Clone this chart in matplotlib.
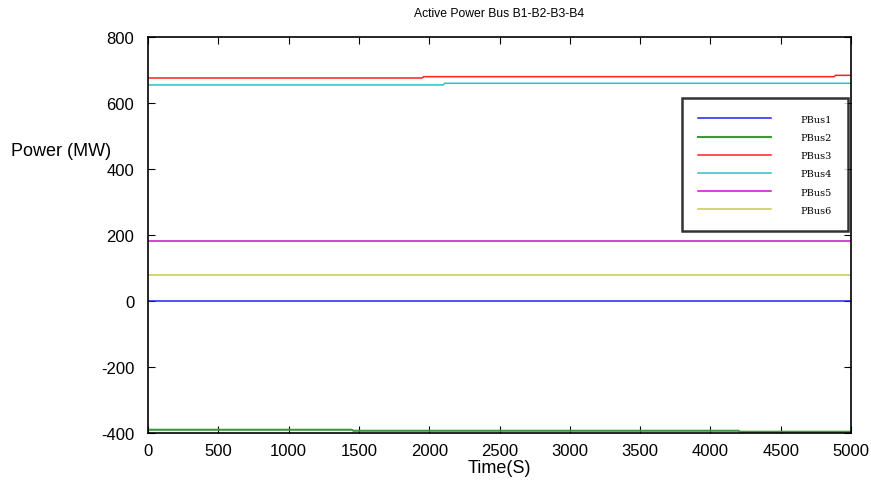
import numpy as np
import matplotlib
matplotlib.use("Agg")
import matplotlib.pyplot as plt

plt.rcParams["font.family"] = ["Liberation Sans", "DejaVu Sans"]
plt.rcParams["axes.unicode_minus"] = False

# breakpoints in time (s) and power values (MW) for each bus
t_bus1 = [0, 5000]
p_bus1 = [0, 0]
t_bus2 = [0, 1450, 1460, 4200, 4210, 5000]
p_bus2 = [-390, -390, -393, -393, -396, -396]
t_bus3 = [0, 1950, 1960, 4880, 4890, 5000]
p_bus3 = [676, 676, 680, 680, 684, 684]
t_bus4 = [0, 2100, 2110, 5000]
p_bus4 = [655, 655, 660, 660]
t_bus5 = [0, 5000]
p_bus5 = [183, 183]
t_bus6 = [0, 5000]
p_bus6 = [80, 80]

labels = ["PBus1", "PBus2", "PBus3", "PBus4", "PBus5", "PBus6"]
colors = ["#2020ff", "#3a9a3a", "#ff2020", "#30c0c0", "#cc10cc", "#c8c850"]
x_ticks = np.arange(0, 5001, 500)
y_ticks = np.arange(-400, 801, 200)

fig = plt.figure(figsize=(8.71, 4.85), dpi=100)
ax = fig.add_axes([0.170, 0.105, 0.807, 0.8165])

series = [(t_bus1, p_bus1), (t_bus2, p_bus2), (t_bus3, p_bus3),
          (t_bus4, p_bus4), (t_bus5, p_bus5), (t_bus6, p_bus6)]
lines = []
for (t, p), c, lab in zip(series, colors, labels):
    ln, = ax.plot(t, p, color=c, lw=1.1, label=lab)
    lines.append(ln)
lines[1].set_linewidth(1.5)

ax.set_xlim(0, 5000)
ax.set_ylim(-400, 800)
ax.set_xticks(x_ticks)
ax.set_yticks(y_ticks)
ax.tick_params(direction="in", length=5, width=0.8, labelsize=12,
               top=True, right=True)
ax.tick_params(axis="x", pad=7)
ax.tick_params(axis="y", pad=10)
for s in ax.spines.values():
    s.set_linewidth(1.2)

ax.set_title("Active Power Bus B1-B2-B3-B4", fontsize=8.7, pad=15)
ax.set_xlabel("Time(S)", fontsize=13, labelpad=1)
fig.text(0.013, 0.687, "Power (MW)", fontsize=13, ha="left", va="center")

leg = ax.legend(handles=lines, loc="upper left", bbox_to_anchor=(0.7525, 0.858),
                frameon=True, fancybox=False, edgecolor="black",
                prop={"family": "DejaVu Serif", "size": 7},
                handlelength=7.5, handletextpad=3.0, labelspacing=0.95,
                borderpad=1.7)
leg.get_frame().set_linewidth(1.8)

fig.savefig("out.png", dpi=100)
